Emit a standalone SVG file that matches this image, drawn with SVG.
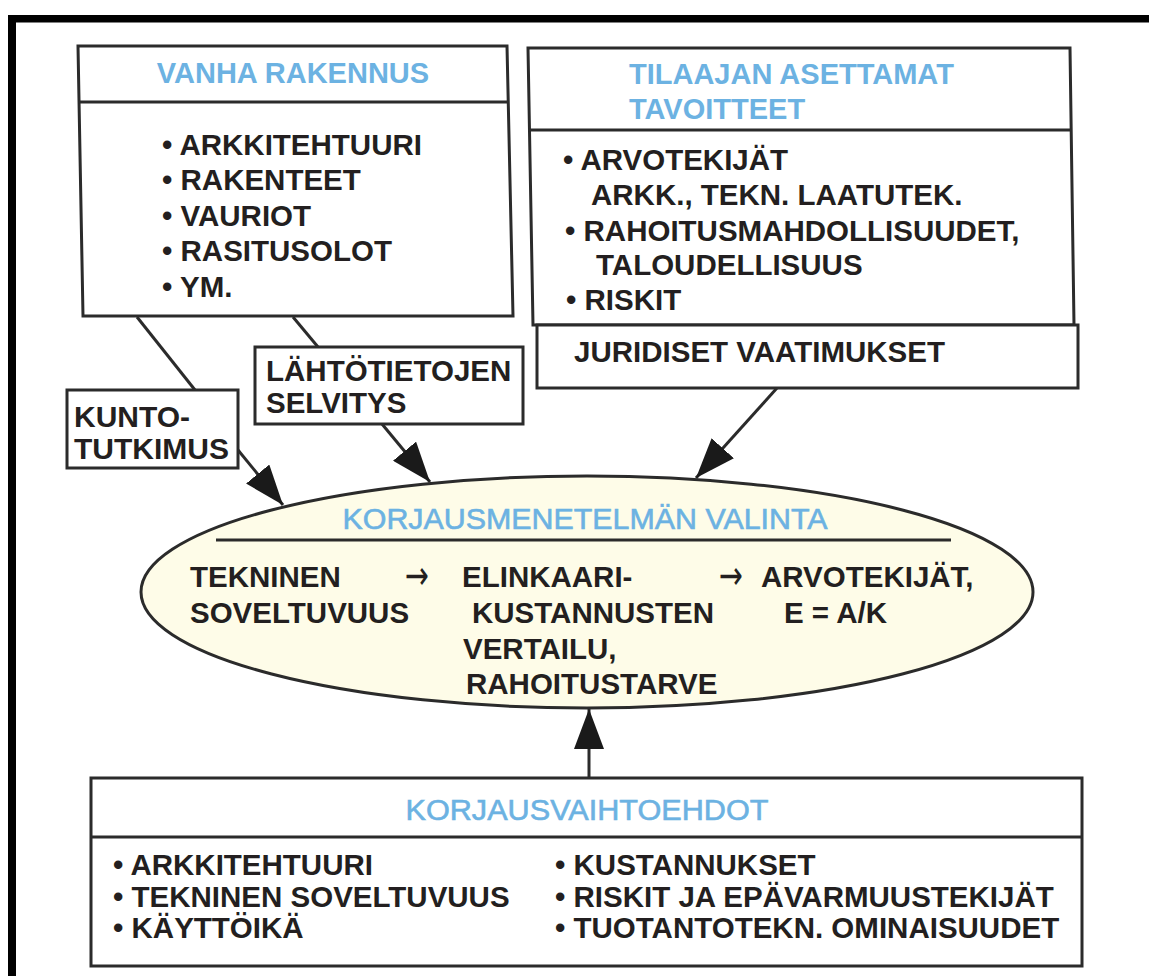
<svg xmlns="http://www.w3.org/2000/svg" width="1149" height="976" viewBox="0 0 1149 976">
<defs>
<style>
.box{fill:#ffffff;stroke:#2b2b2b;stroke-width:3}
.ln{stroke:#2b2b2b;stroke-width:3;fill:none}
.t{font-family:"Liberation Sans",Arial,sans-serif;font-weight:bold;font-size:29.5px;fill:#231f20}
.h{font-family:"Liberation Sans",Arial,sans-serif;font-weight:bold;font-size:29px;fill:#6cb2e2}
.hn{font-family:"Liberation Sans",Arial,sans-serif;font-weight:normal;font-size:29px;fill:#6cb2e2;stroke:#6cb2e2;stroke-width:0.6}
.ar{font-family:"DejaVu Sans",sans-serif;font-size:40px;fill:#231f20}
</style>
<marker id="ah" markerUnits="userSpaceOnUse" markerWidth="42" markerHeight="30" refX="40" refY="15" orient="auto" viewBox="0 0 42 30">
<path d="M0,0 L40,15 L0,30 Z" fill="#1a1a1a"/>
</marker>
</defs>
<rect width="1149" height="976" fill="#ffffff"/>
<g id="frame">
<rect x="8" y="15" width="1141" height="7.5" fill="#000"/>
<rect x="8" y="15" width="8" height="961" fill="#000"/>
</g>
<g id="connectors">
<line class="ln" x1="137" y1="317" x2="195" y2="390"/>
<line class="ln" x1="293" y1="317" x2="318" y2="347"/>
<line class="ln" x1="238" y1="450" x2="283" y2="505" marker-end="url(#ah)"/>
<line class="ln" x1="382" y1="424" x2="430" y2="482" marker-end="url(#ah)"/>
<line class="ln" x1="777" y1="388" x2="696" y2="478" marker-end="url(#ah)"/>
<line class="ln" x1="589" y1="778" x2="589" y2="709" marker-end="url(#ah)"/>
</g>
<g id="vanha">
<path class="box" d="M78,46 L507,46 L513,316 L83,316 Z"/>
<line class="ln" x1="78" y1="102" x2="508" y2="102"/>
<text class="h" x="293" y="83" text-anchor="middle">VANHA RAKENNUS</text>
<text class="t" x="162" y="155">• ARKKITEHTUURI</text>
<text class="t" x="162" y="190">• RAKENTEET</text>
<text class="t" x="162" y="226">• VAURIOT</text>
<text class="t" x="162" y="261">• RASITUSOLOT</text>
<text class="t" x="162" y="297">• YM.</text>
</g>
<g id="tilaajan">
<path class="box" d="M528,48 L1070,48 L1074,325 L533,325 Z"/>
<line class="ln" x1="528" y1="130" x2="1071" y2="130"/>
<text class="h" x="629" y="84">TILAAJAN ASETTAMAT</text>
<text class="h" x="629" y="119">TAVOITTEET</text>
<text class="t" x="563" y="170">• ARVOTEKIJÄT</text>
<text class="t" x="591" y="205">ARKK., TEKN. LAATUTEK.</text>
<text class="t" x="565" y="241">• RAHOITUSMAHDOLLISUUDET,</text>
<text class="t" x="596" y="275">TALOUDELLISUUS</text>
<text class="t" x="566" y="310">• RISKIT</text>
</g>
<g id="juridiset">
<rect class="box" x="537" y="325" width="541" height="63"/>
<text class="t" x="574" y="362">JURIDISET VAATIMUKSET</text>
</g>
<g id="kuntotutkimus">
<rect class="box" x="67" y="390" width="171" height="78"/>
<text class="t" x="74" y="427" style="font-size:30px">KUNTO-</text>
<text class="t" x="74" y="459" style="font-size:30px">TUTKIMUS</text>
</g>
<g id="lahtotietojen">
<rect class="box" x="255" y="347" width="268" height="77"/>
<text class="t" x="266" y="381">LÄHTÖTIETOJEN</text>
<text class="t" x="266" y="413">SELVITYS</text>
</g>
<g id="valinta">
<ellipse cx="587" cy="592" rx="446" ry="116" fill="#fefce8" stroke="#2b2b2b" stroke-width="3"/>
<text class="hn" x="585" y="529" text-anchor="middle" textLength="485" lengthAdjust="spacingAndGlyphs">KORJAUSMENETELMÄN VALINTA</text>
<line class="ln" x1="216" y1="540" x2="951" y2="540"/>
<text class="t" x="190" y="587">TEKNINEN</text>
<text class="ar" x="405" y="589" textLength="24" lengthAdjust="spacingAndGlyphs">&#x2192;</text>
<text class="t" x="462" y="587">ELINKAARI-</text>
<text class="ar" x="719" y="589" textLength="24" lengthAdjust="spacingAndGlyphs">&#x2192;</text>
<text class="t" x="761" y="587">ARVOTEKIJÄT,</text>
<text class="t" x="190" y="623">SOVELTUVUUS</text>
<text class="t" x="472" y="623">KUSTANNUSTEN</text>
<text class="t" x="784" y="623">E = A/K</text>
<text class="t" x="463" y="659">VERTAILU,</text>
<text class="t" x="466" y="694">RAHOITUSTARVE</text>
</g>
<g id="korjausvaihtoehdot">
<rect class="box" x="91" y="778" width="991" height="188"/>
<line class="ln" x1="91" y1="837" x2="1082" y2="837"/>
<text class="hn" x="587" y="820" text-anchor="middle" textLength="363" lengthAdjust="spacingAndGlyphs">KORJAUSVAIHTOEHDOT</text>
<text class="t" x="113" y="875">• ARKKITEHTUURI</text>
<text class="t" x="113" y="907">• TEKNINEN SOVELTUVUUS</text>
<text class="t" x="113" y="938">• KÄYTTÖIKÄ</text>
<text class="t" x="555" y="875">• KUSTANNUKSET</text>
<text class="t" x="555" y="907">• RISKIT JA EPÄVARMUUSTEKIJÄT</text>
<text class="t" x="555" y="938">• TUOTANTOTEKN. OMINAISUUDET</text>
</g>
</svg>
